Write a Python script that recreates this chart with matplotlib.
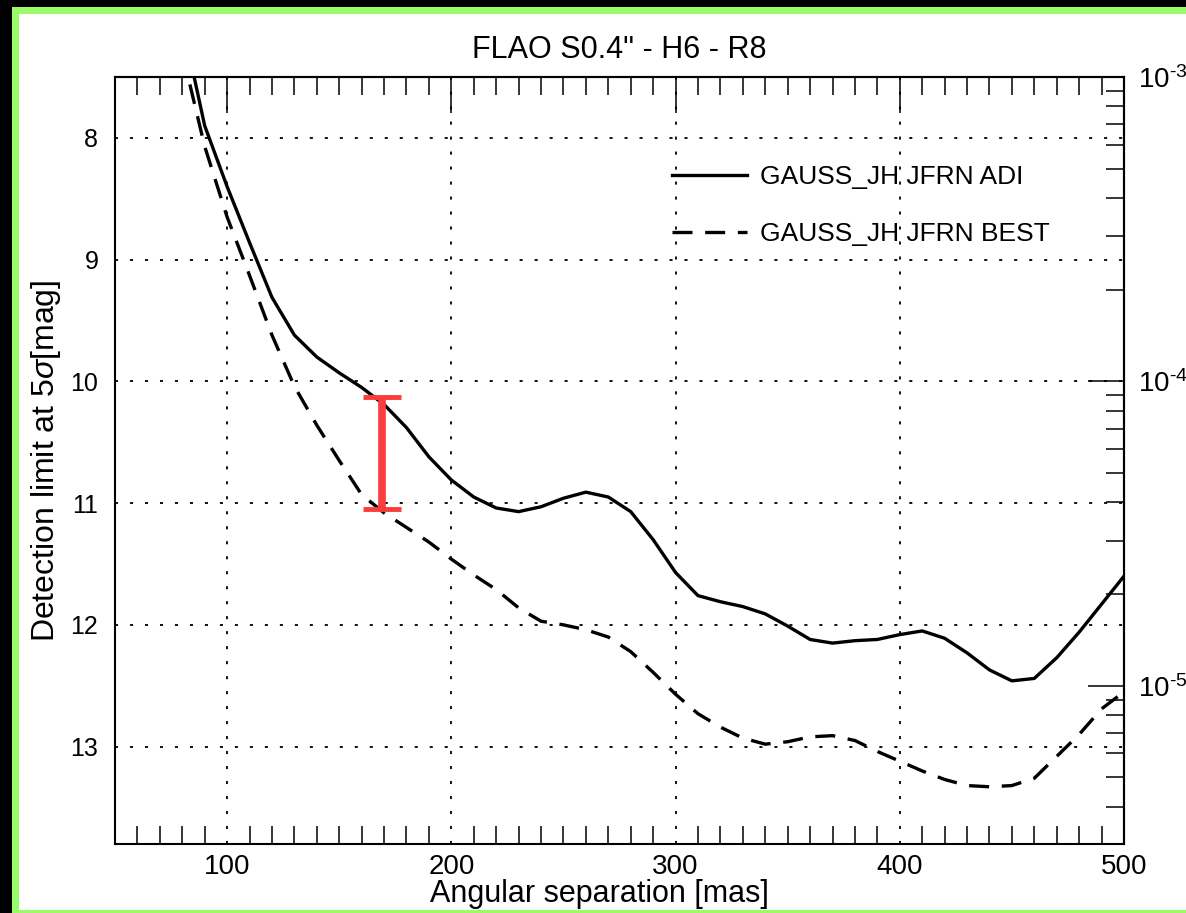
import numpy as np
import matplotlib.pyplot as plt
from matplotlib.patches import Rectangle
from matplotlib.ticker import FixedLocator, FixedFormatter

plt.rcParams['font.family'] = ['Liberation Sans', 'DejaVu Sans']
plt.rcParams['mathtext.fontset'] = 'custom'
plt.rcParams['mathtext.rm'] = 'Liberation Sans'
plt.rcParams['mathtext.it'] = 'Liberation Sans:italic'
plt.rcParams['mathtext.default'] = 'regular'
plt.rcParams['axes.unicode_minus'] = False

# angular separation [mas]
sep = [80, 90, 100, 110, 120, 130, 140, 150, 160, 170, 180, 190, 200, 210, 220,
       230, 240, 250, 260, 270, 280, 290, 300, 310, 320, 330, 340, 350, 360, 370,
       380, 390, 400, 410, 420, 430, 440, 450, 460, 470, 480, 490, 500]
# detection limit at 5 sigma [mag]
adi = [7.05, 7.90, 8.40, 8.86, 9.31, 9.62, 9.80, 9.93, 10.05, 10.19, 10.38, 10.62,
       10.81, 10.95, 11.04, 11.07, 11.03, 10.96, 10.91, 10.95, 11.07, 11.30, 11.57,
       11.76, 11.81, 11.85, 11.91, 12.01, 12.12, 12.15, 12.13, 12.12, 12.08, 12.05,
       12.11, 12.23, 12.37, 12.46, 12.44, 12.27, 12.06, 11.83, 11.60]
best = [7.30, 8.07, 8.65, 9.13, 9.62, 10.04, 10.36, 10.65, 10.93, 11.08, 11.20,
        11.32, 11.46, 11.59, 11.71, 11.86, 11.97, 12.00, 12.04, 12.10, 12.22, 12.39,
        12.57, 12.73, 12.84, 12.93, 12.98, 12.96, 12.92, 12.91, 12.95, 13.04, 13.12,
        13.20, 13.27, 13.32, 13.33, 13.32, 13.26, 13.08, 12.90, 12.69, 12.55]
labels = ['GAUSS_JH JFRN ADI', 'GAUSS_JH JFRN BEST']

# red marker of the gap between the two curves
gap_sep = 169
gap_top = 10.13
gap_bottom = 11.05

# contrast axis on the right
contrast_ticks = [1e-3, 1e-4, 1e-5]
contrast_labels = ['$10^{\\text{-}3}$', '$10^{\\text{-}4}$', '$10^{\\text{-}5}$']

W, H = 1186, 913
fig = plt.figure(figsize=(W / 100, H / 100), dpi=100)
fig.patch.set_facecolor('black')
fig.patches.append(Rectangle((12 / W, 0), 1.1, 906 / H, transform=fig.transFigure,
                             facecolor='#9bfc6a', edgecolor='none', zorder=-2))
fig.patches.append(Rectangle((19 / W, 3 / H), 1.1, 896 / H, transform=fig.transFigure,
                             facecolor='white', edgecolor='none', zorder=-1))

ax = fig.add_axes([115 / W, 69 / H, 1009 / W, 767 / H])
ax.plot(sep, adi, color='k', lw=2.4, label=labels[0])
ax.plot(sep, best, color='k', lw=2.4, ls=(0, (6, 3.8)), label=labels[1])
ax.errorbar([gap_sep], [(gap_top + gap_bottom) / 2],
            yerr=[[(gap_bottom - gap_top) / 2], [(gap_bottom - gap_top) / 2]],
            color='#fa3c3c', lw=5.5, capsize=14, capthick=3.5, zorder=5)

ax.set_xlim(50, 500)
ax.set_ylim(13.8, 7.5)
ax.set_xticks(range(100, 501, 100))
ax.set_xticks(range(50, 501, 10), minor=True)
ax.set_yticks(range(8, 14))
ax.grid(True, which='major', color='k', lw=1.3, ls=(0, (1.7, 6.6)))
for s in ax.spines.values():
    s.set_linewidth(1.5)
ax.tick_params(axis='x', which='major', direction='in', length=0, pad=7, labelsize=20)
ax.tick_params(axis='x', which='minor', direction='in', length=13, width=1.1,
               top=True, bottom=True)
ax.tick_params(axis='y', which='both', length=0, pad=12, labelsize=18)
ax.tick_params(axis='y', right=False)

top = ax.secondary_xaxis('top')
top.set_xticks(range(100, 501, 100))
top.tick_params(direction='in', length=26, width=1.1, labeltop=False)
top.spines['top'].set_linewidth(1.5)

sec = ax.secondary_yaxis('right', functions=(lambda m: 10 ** (-0.4 * m),
                                             lambda c: -2.5 * np.log10(c)))
minor = [k * 10.0 ** e for e in range(-6, -2) for k in range(2, 10)]
sec.yaxis.set_major_locator(FixedLocator(contrast_ticks))
sec.yaxis.set_major_formatter(FixedFormatter(contrast_labels))
sec.yaxis.set_minor_locator(FixedLocator(minor))
sec.tick_params(which='major', direction='in', length=26, width=1.1, pad=10, labelsize=20)
sec.tick_params(which='minor', direction='in', length=13, width=1.1)
sec.spines['right'].set_linewidth(1.5)

ax.set_title('FLAO S0.4" - H6 - R8', fontsize=22, pad=14)
ax.set_xlabel('Angular separation [mas]', fontsize=22, labelpad=0)
ax.xaxis.set_label_coords(0.48, -0.045)
ax.set_ylabel('Detection limit at 5$\\mathit{\\sigma}$[mag]', fontsize=23)
ax.yaxis.set_label_coords(-0.052, 0.5)
ax.legend(loc='upper left', bbox_to_anchor=(0.552, 0.885), frameon=False, fontsize=19,
          handlelength=2.85, handletextpad=0.5, labelspacing=1.25, borderpad=0,
          borderaxespad=0)

fig.savefig('out.png', dpi=100, facecolor=fig.get_facecolor())
